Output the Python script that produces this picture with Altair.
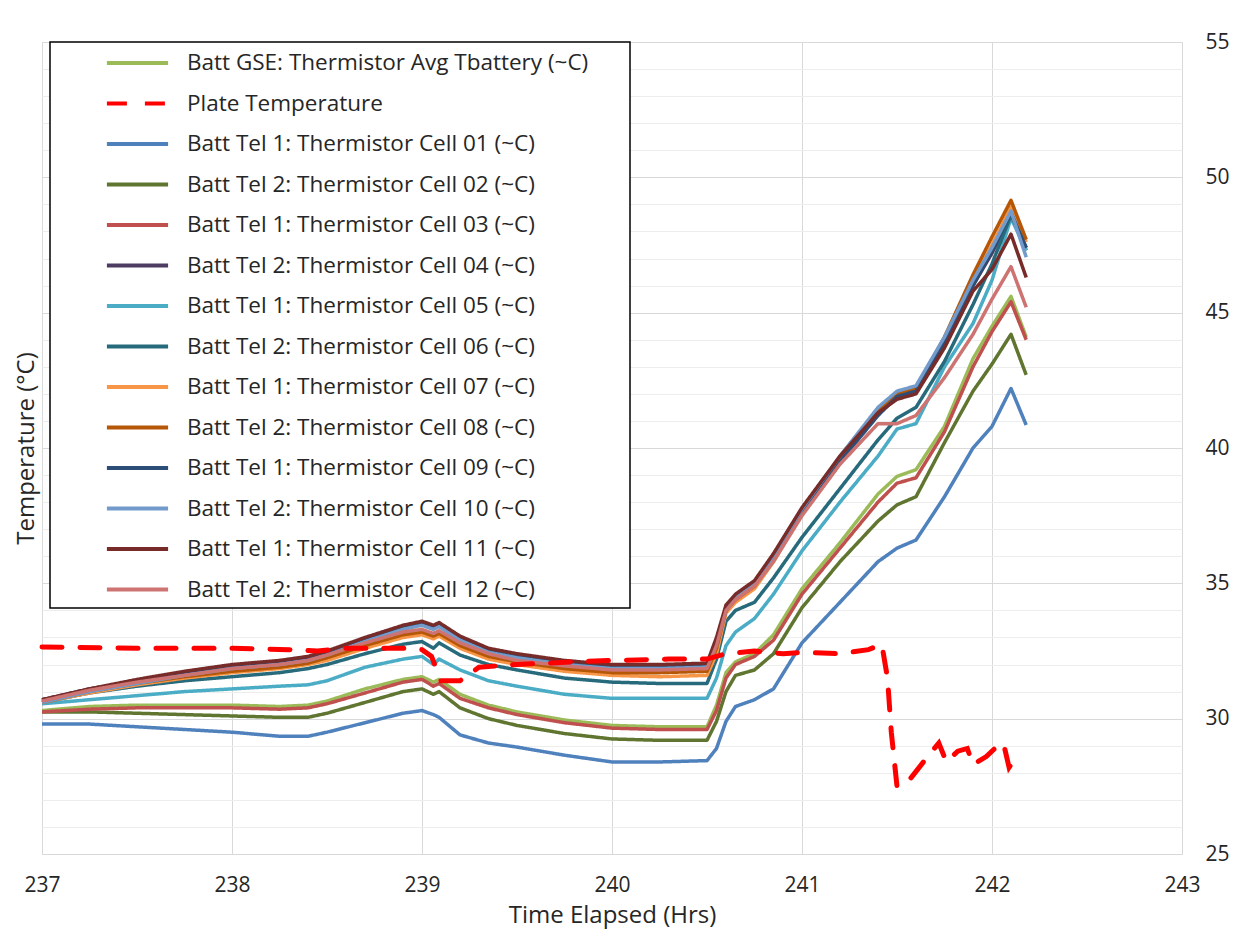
import altair as alt
import pandas as pd

# ---------------- data ----------------
hours = [237.0, 237.25, 237.5, 237.75, 238.0, 238.25, 238.4, 238.5, 238.7, 238.9,
         239.0, 239.06, 239.09, 239.2, 239.35, 239.5, 239.75, 240.0, 240.25, 240.5,
         240.55, 240.6, 240.65, 240.75, 240.85, 241.0, 241.2, 241.4, 241.5, 241.6,
         241.75, 241.9, 242.0, 242.1, 242.18]

gse_avg = [30.3, 30.45, 30.5, 30.5, 30.5, 30.45, 30.5, 30.65, 31.1, 31.45,
           31.55, 31.35, 31.45, 30.9, 30.5, 30.25, 29.95, 29.75, 29.7, 29.7,
           30.5, 31.7, 32.1, 32.4, 33.1, 34.8, 36.5, 38.3, 38.95, 39.2,
           40.8, 43.3, 44.5, 45.6, 44.1]
cell01 = [29.8, 29.8, 29.7, 29.6, 29.5, 29.35, 29.35, 29.5, 29.85, 30.2,
          30.3, 30.15, 30.05, 29.4, 29.1, 28.95, 28.65, 28.4, 28.4, 28.45,
          28.9, 29.9, 30.45, 30.7, 31.1, 32.8, 34.3, 35.8, 36.3, 36.6,
          38.2, 40.0, 40.8, 42.2, 40.85]
cell02 = [30.25, 30.25, 30.2, 30.15, 30.1, 30.05, 30.05, 30.2, 30.6, 31.0,
          31.1, 30.9, 31.0, 30.4, 30.0, 29.75, 29.45, 29.25, 29.2, 29.2,
          29.9, 31.0, 31.6, 31.8, 32.4, 34.1, 35.8, 37.3, 37.9, 38.2,
          40.2, 42.1, 43.1, 44.2, 42.7]
cell03 = [30.25, 30.35, 30.4, 30.4, 30.4, 30.35, 30.4, 30.55, 30.95, 31.35,
          31.45, 31.2, 31.3, 30.75, 30.4, 30.15, 29.85, 29.65, 29.6, 29.6,
          30.3, 31.5, 32.0, 32.3, 32.9, 34.6, 36.3, 38.0, 38.7, 38.9,
          40.6, 43.0, 44.3, 45.4, 44.0]
cell04 = [30.7, 31.1, 31.4, 31.7, 31.95, 32.1, 32.25, 32.45, 32.95, 33.4,
          33.55, 33.4, 33.5, 33.0, 32.55, 32.35, 32.1, 31.95, 31.95, 32.0,
          32.9, 34.1, 34.5, 35.0, 36.0, 37.7, 39.6, 41.3, 41.9, 42.1,
          43.9, 46.0, 47.2, 48.6, 47.3]
cell05 = [30.55, 30.7, 30.85, 31.0, 31.1, 31.2, 31.25, 31.4, 31.9, 32.2,
          32.3, 32.0, 32.2, 31.8, 31.4, 31.2, 30.9, 30.75, 30.75, 30.75,
          31.5, 32.7, 33.2, 33.7, 34.6, 36.2, 38.0, 39.7, 40.7, 40.9,
          43.0, 44.6, 46.2, 48.5, 47.3]
cell06 = [30.6, 30.95, 31.2, 31.4, 31.55, 31.7, 31.85, 32.0, 32.4, 32.75,
          32.85, 32.6, 32.8, 32.35, 32.0, 31.8, 31.5, 31.35, 31.3, 31.3,
          32.2, 33.6, 34.0, 34.3, 35.2, 36.7, 38.5, 40.3, 41.1, 41.5,
          43.2, 45.3, 46.8, 48.6, 47.4]
cell07 = [30.6, 30.95, 31.25, 31.5, 31.7, 31.85, 32.0, 32.15, 32.6, 33.0,
          33.1, 32.95, 33.05, 32.6, 32.2, 32.0, 31.75, 31.6, 31.55, 31.6,
          32.4, 33.9, 34.3, 34.8, 35.8, 37.6, 39.6, 41.3, 41.9, 42.1,
          44.0, 46.2, 47.5, 48.9, 47.6]
cell08 = [30.6, 31.0, 31.3, 31.55, 31.75, 31.9, 32.05, 32.25, 32.7, 33.1,
          33.2, 33.05, 33.15, 32.7, 32.3, 32.1, 31.85, 31.7, 31.7, 31.75,
          32.6, 34.0, 34.4, 34.9, 35.9, 37.7, 39.7, 41.4, 42.0, 42.2,
          44.1, 46.4, 47.8, 49.15, 47.7]
cell09 = [30.65, 31.05, 31.35, 31.65, 31.9, 32.05, 32.2, 32.4, 32.9, 33.35,
          33.5, 33.35, 33.45, 32.95, 32.5, 32.3, 32.05, 31.9, 31.9, 31.95,
          32.85, 34.0, 34.45, 34.95, 35.9, 37.6, 39.5, 41.2, 41.9, 42.1,
          43.9, 46.0, 47.3, 48.7, 47.4]
cell10 = [30.6, 31.0, 31.3, 31.6, 31.85, 32.0, 32.15, 32.35, 32.85, 33.3,
          33.45, 33.3, 33.4, 32.9, 32.45, 32.25, 32.0, 31.85, 31.85, 31.9,
          32.8, 34.0, 34.45, 35.0, 36.0, 37.75, 39.7, 41.5, 42.1, 42.3,
          44.1, 46.2, 47.4, 48.75, 47.05]
cell11 = [30.7, 31.1, 31.45, 31.75, 32.0, 32.15, 32.3, 32.5, 33.0, 33.45,
          33.6, 33.45, 33.55, 33.05, 32.6, 32.4, 32.15, 32.0, 32.0, 32.05,
          33.0, 34.2, 34.6, 35.1, 36.1, 37.8, 39.7, 41.3, 41.8, 42.0,
          43.7, 45.8, 46.6, 47.9, 46.3]
cell12 = [30.65, 31.05, 31.35, 31.6, 31.85, 32.0, 32.15, 32.35, 32.8, 33.2,
          33.3, 33.15, 33.25, 32.8, 32.4, 32.15, 31.95, 31.8, 31.8, 31.85,
          32.7, 34.0, 34.4, 34.9, 35.8, 37.5, 39.4, 40.9, 40.9, 41.2,
          42.6, 44.2, 45.5, 46.7, 45.2]

plate_hours = [237.0, 237.5, 238.0, 238.3, 238.45, 238.6, 238.9, 239.0, 239.05, 239.1,
               239.2, 239.3, 239.5, 239.8, 240.0, 240.3, 240.5, 240.6, 240.75, 240.9,
               241.0, 241.2, 241.35, 241.42, 241.45, 241.47, 241.5, 241.55, 241.65, 241.72,
               241.76, 241.82, 241.87, 241.9, 241.97, 242.03, 242.06, 242.09, 242.13]
plate_temp = [32.65, 32.6, 32.6, 32.55, 32.5, 32.6, 32.6, 32.55, 32.3, 31.4,
              31.4, 31.9, 32.0, 32.1, 32.15, 32.2, 32.2, 32.4, 32.5, 32.4,
              32.45, 32.4, 32.55, 32.75, 31.5, 29.5, 27.5, 27.6, 28.5, 29.1,
              28.4, 28.8, 28.9, 28.3, 28.6, 29.0, 29.1, 28.2, 28.6]

series_names = [
    "Batt GSE: Thermistor Avg Tbattery (~C)",
    "Plate Temperature",
    "Batt Tel 1: Thermistor Cell 01 (~C)",
    "Batt Tel 2: Thermistor Cell 02 (~C)",
    "Batt Tel 1: Thermistor Cell 03 (~C)",
    "Batt Tel 2: Thermistor Cell 04 (~C)",
    "Batt Tel 1: Thermistor Cell 05 (~C)",
    "Batt Tel 2: Thermistor Cell 06 (~C)",
    "Batt Tel 1: Thermistor Cell 07 (~C)",
    "Batt Tel 2: Thermistor Cell 08 (~C)",
    "Batt Tel 1: Thermistor Cell 09 (~C)",
    "Batt Tel 2: Thermistor Cell 10 (~C)",
    "Batt Tel 1: Thermistor Cell 11 (~C)",
    "Batt Tel 2: Thermistor Cell 12 (~C)",
]
series_colors = ["#9BBB59", "#FF0000", "#4F81BD", "#5F7530", "#C0504D", "#4D3B62",
                 "#4BACC6", "#276A7C", "#F79646", "#B65708", "#2C4D75", "#729ACA",
                 "#772C2A", "#CD7371"]
series_dashes = [[1, 0], [20, 18], [1, 0], [1, 0], [1, 0], [1, 0], [1, 0],
                 [1, 0], [1, 0], [1, 0], [1, 0], [1, 0], [1, 0], [1, 0]]

x_ticks = [237, 238, 239, 240, 241, 242, 243]
y_major = [25, 30, 35, 40, 45, 50, 55]
y_minor = [26, 27, 28, 29, 31, 32, 33, 34, 36, 37, 38, 39, 41, 42, 43, 44,
           46, 47, 48, 49, 51, 52, 53, 54]

# ---------------- tables ----------------
cell_values = [gse_avg, cell01, cell02, cell03, cell04, cell05, cell06,
               cell07, cell08, cell09, cell10, cell11, cell12]
cell_names = [series_names[0]] + series_names[2:]
rows = []
for name, vals in zip(cell_names, cell_values):
    for h, v in zip(hours, vals):
        rows.append({"Hours": h, "Temp": v, "Series": name})
df_cells = pd.DataFrame(rows)
df_plate = pd.DataFrame({"Hours": plate_hours, "Temp": plate_temp,
                         "Series": ["Plate Temperature"] * len(plate_hours)})

FONT = "Open Sans"
TXT = "#262626"

legend = alt.Legend(
    title=None, orient="none", legendX=8, legendY=0, padding=1,
    symbolType="M-1.7,0L1.7,0", symbolSize=1296, symbolStrokeWidth=4,
    symbolOffset=66.5, labelOffset=29.5, rowPadding=8.5,
    labelFont=FONT, labelFontSize=22.5, labelColor=TXT, labelLimit=0,
)
color = alt.Color("Series:N", scale=alt.Scale(domain=series_names, range=series_colors),
                  legend=legend)
dash = alt.StrokeDash("Series:N", scale=alt.Scale(domain=series_names, range=series_dashes),
                      legend=legend)

x_axis = alt.Axis(values=x_ticks, format="d", title="Time Elapsed (Hrs)", grid=True,
                  gridColor="#D9D9D9", gridWidth=1, ticks=False, domain=False,
                  labelFlush=False,
                  labelFont=FONT, labelFontSize=21, labelColor=TXT, labelPadding=20,
                  titleFont=FONT, titleFontSize=24, titleFontWeight="normal",
                  titleColor=TXT, titlePadding=8)
x_enc = alt.X("Hours:Q", scale=alt.Scale(domain=[237, 243], nice=False, zero=False),
              axis=x_axis)
y_scale = alt.Scale(domain=[25, 55], nice=False, zero=False)

y_right = alt.Y("Temp:Q", scale=y_scale,
                axis=alt.Axis(orient="right", values=y_major, grid=True, gridColor="#D9D9D9",
                              ticks=False, domain=False, title=None, labelFont=FONT,
                              labelFontSize=21, labelColor=TXT, labelPadding=23))
y_left = alt.Y("Temp:Q", scale=y_scale,
               axis=alt.Axis(orient="left", values=y_minor, grid=True, gridColor="#EDEDED",
                             ticks=False, domain=False, labels=False,
                             title="Temperature (°C)", titleFont=FONT, titleFontSize=24,
                             titleFontWeight="normal", titleColor=TXT, titlePadding=4,
                             minExtent=0, maxExtent=0))

frame = alt.Chart(pd.DataFrame({"k": [0]})).mark_rect(
    fill="white", stroke="black", strokeWidth=1.5
).encode(x=alt.value(8), x2=alt.value(588), y=alt.value(0), y2=alt.value(566))

cells = alt.Chart(df_cells).mark_line(strokeWidth=3.5, strokeJoin="round").encode(
    x=x_enc, y=y_right, color=color, strokeDash=dash)

plate = alt.Chart(df_plate).mark_line(strokeWidth=5, strokeCap="round").encode(
    x=x_enc, y=y_left, color=color, strokeDash=dash)

chart = alt.layer(frame, cells, plate).resolve_axis(y="independent").properties(
    width=1140, height=812,
    autosize=alt.AutoSizeParams(type="none"),
    padding={"left": 34, "top": 34, "right": 63, "bottom": 75},
).configure_view(stroke="#D9D9D9", strokeWidth=1).configure(background="white")

chart.save("out.html", embed_options={"renderer": "svg", "actions": False})
